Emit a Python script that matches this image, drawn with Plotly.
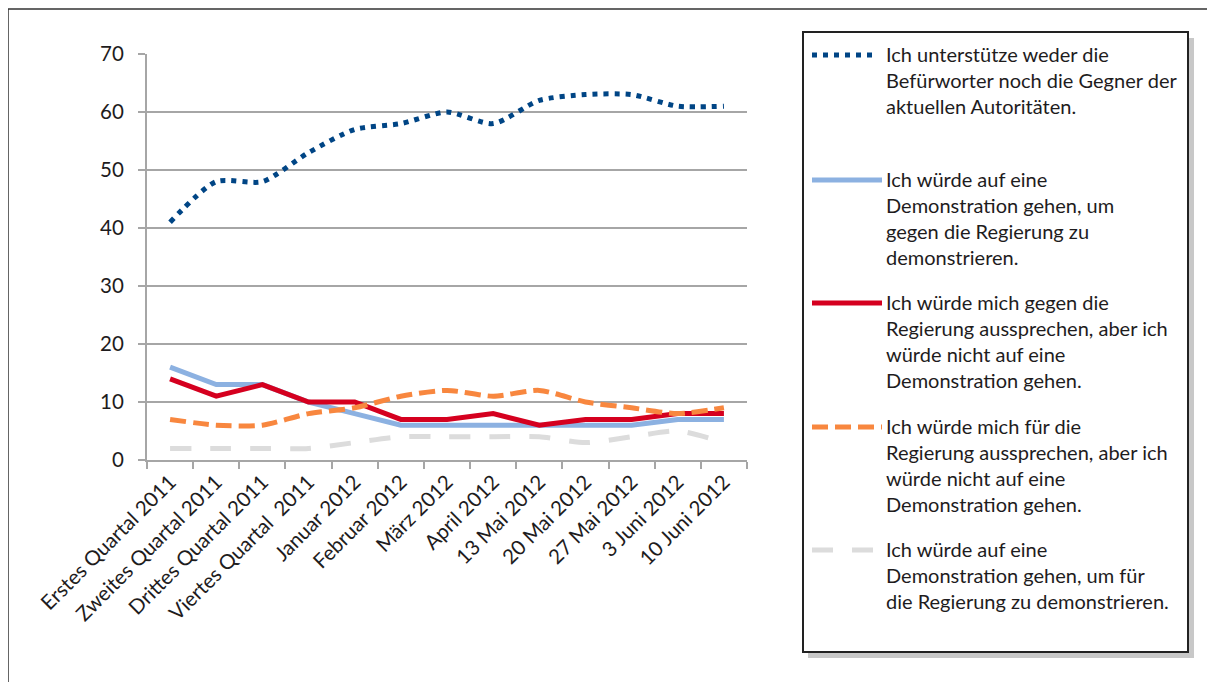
import plotly.graph_objects as go

categories = [
    "Erstes Quartal 2011", "Zweites Quartal 2011", "Drittes Quartal 2011",
    "Viertes Quartal\u00a0 2011", "Januar 2012", "Februar 2012", "März 2012",
    "April 2012", "13 Mai 2012", "20 Mai 2012", "27 Mai 2012", "3 Juni 2012",
    "10 Juni 2012",
]

weder_noch = [41, 48, 48, 53, 57, 58, 60, 58, 62, 63, 63, 61, 61]
demo_gegen = [16, 13, 13, 10, 8, 6, 6, 6, 6, 6, 6, 7, 7]
gegen_ohne_demo = [14, 11, 13, 10, 10, 7, 7, 8, 6, 7, 7, 8, 8]
fuer_ohne_demo = [7, 6, 6, 8, 9, 11, 12, 11, 12, 10, 9, 8, 9]
demo_fuer = [2, 2, 2, 2, 3, 4, 4, 4, 4, 3, 4, 5, 3]

labels = [
    "Ich unterstütze weder die<br>Befürworter noch die Gegner der<br>aktuellen Autoritäten.",
    "Ich würde auf eine<br>Demonstration gehen, um<br>gegen die Regierung zu<br>demonstrieren.",
    "Ich würde mich gegen die<br>Regierung aussprechen, aber ich<br>würde nicht auf eine<br>Demonstration gehen.",
    "Ich würde mich für die<br>Regierung aussprechen, aber ich<br>würde nicht auf eine<br>Demonstration gehen.",
    "Ich würde auf eine<br>Demonstration gehen, um für<br>die Regierung zu demonstrieren.",
]

FONT = "Lato"
TXT = "#1E1C1D"
GRID = "#A6A6A6"

# (values, color, dash, smoothed)
series = [
    (weder_noch, "#004585", "5px,6px", True),
    (demo_gegen, "#8CB1E1", "solid", False),
    (gegen_ohne_demo, "#D5001F", "solid", False),
    (fuer_ohne_demo, "#F8873F", "16px,7px", True),
    (demo_fuer, "#DCDCDC", "21px,19px", True),
]

# page body adds an 8px margin, so everything is laid out 8px up/left
SHIFT = 8
W, H = 1215, 682
L, R, T, B = 147 - SHIFT, 747 - SHIFT, 54 - SHIFT, 460 - SHIFT


def px(x):
    return (x - SHIFT - L) / (R - L)


def py(y):
    return (B - (y - SHIFT)) / (B - T)


fig = go.Figure()
for (vals, color, dash, smooth), name in zip(series, labels):
    fig.add_trace(go.Scatter(
        x=categories, y=vals, mode="lines", name=name, showlegend=False,
        line=dict(color=color, width=5, dash=dash,
                  shape="spline" if smooth else "linear", smoothing=0.7),
        hoverinfo="skip",
    ))

shapes = []
annotations = []

# outer frame
shapes.append(dict(type="rect", xref="paper", yref="paper",
                   x0=px(8), x1=px(1230), y0=py(9), y1=py(710),
                   line=dict(color="#333333", width=1.5), layer="below"))

# legend box with shadow
shapes.append(dict(type="rect", xref="paper", yref="paper",
                   x0=px(808), x1=px(1194), y0=py(38), y1=py(658),
                   fillcolor="#C8C8C8", line=dict(width=0), layer="below"))
shapes.append(dict(type="rect", xref="paper", yref="paper",
                   x0=px(803), x1=px(1188), y0=py(32), y1=py(652),
                   fillcolor="white", line=dict(color="#222222", width=2),
                   layer="below"))

entry_y = [55, 180, 303, 427, 550]
for (vals, color, dash, smooth), name, ey in zip(series, labels, entry_y):
    x1 = 872 if dash == "5px,6px" else 882
    shapes.append(dict(type="line", xref="paper", yref="paper",
                       x0=px(812), x1=px(x1), y0=py(ey), y1=py(ey),
                       line=dict(color=color, width=5, dash=dash)))
    annotations.append(dict(
        xref="paper", yref="paper", x=px(884), y=py(ey - 15),
        xanchor="left", yanchor="top", align="left", showarrow=False,
        text=name, font=dict(family=FONT, size=20, color=TXT),
    ))

fig.update_layout(
    width=W, height=H,
    margin=dict(l=L, r=W - R, t=T, b=H - B),
    paper_bgcolor="white", plot_bgcolor="white",
    font=dict(family=FONT, size=20, color=TXT),
    shapes=shapes, annotations=annotations,
    xaxis=dict(
        type="category", tickangle=-45, tickson="boundaries",
        ticks="outside", ticklen=7, tickcolor=GRID, tickwidth=2,
        showline=True, linecolor=GRID, linewidth=2, showgrid=False,
        range=[-0.5, 12.5], tickfont=dict(size=20.5),
    ),
    yaxis=dict(
        range=[0, 70], dtick=10, ticks="outside", ticklen=7,
        tickcolor=GRID, tickwidth=2, showline=True, linecolor=GRID,
        linewidth=2, gridcolor=GRID, gridwidth=2, zeroline=False,
        tickfont=dict(size=20.5), ticklabelstandoff=10,
    ),
)

fig.write_html("out.html")
